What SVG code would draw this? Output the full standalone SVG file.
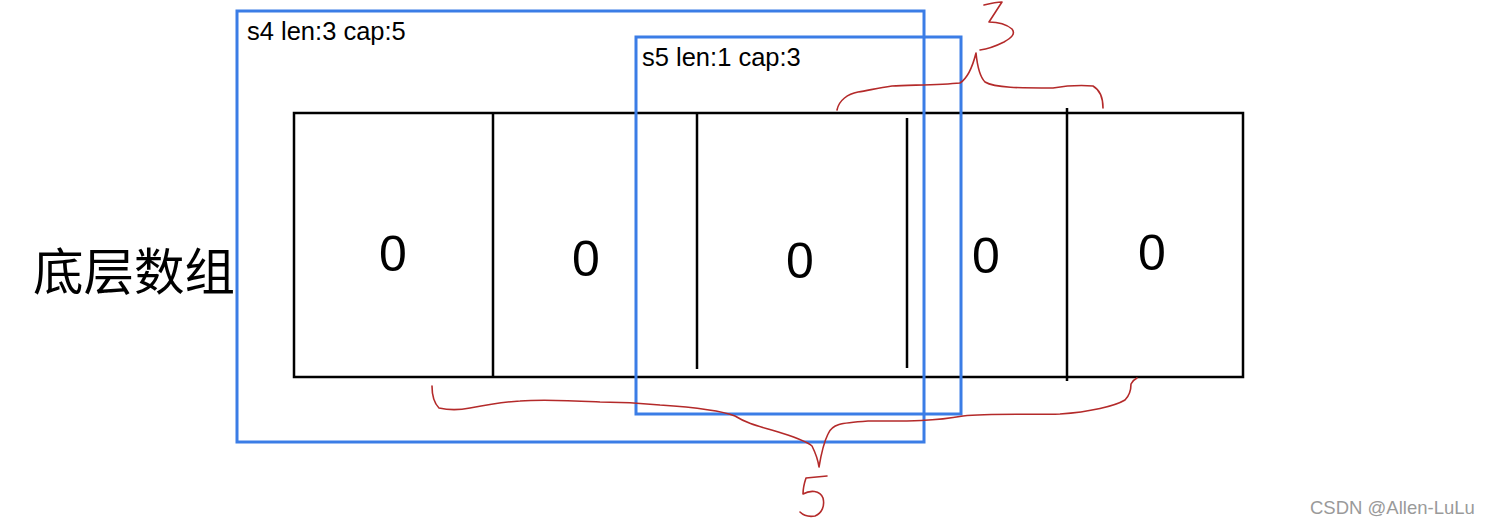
<svg xmlns="http://www.w3.org/2000/svg" width="1491" height="526" viewBox="0 0 1491 526">
<style>
.arr{fill:none;stroke:#000;stroke-width:2.5}
.div{stroke:#000;stroke-width:2.5}
.blue{fill:none;stroke:#3b7de6;stroke-width:3}
.red{fill:none;stroke:#b42a2a;stroke-width:1.6;stroke-linecap:round;stroke-linejoin:round}
.lbl{font-family:"Liberation Sans",Arial,sans-serif;font-size:25.5px;fill:#000}
.num{font-family:"Liberation Sans",Arial,sans-serif;font-size:50px;fill:#000;text-anchor:middle}
.cjk{font-family:"Liberation Sans","Noto Sans CJK SC",sans-serif;font-size:50.5px;fill:#000}
.wm{font-family:"Liberation Sans",Arial,sans-serif;font-size:18.5px;fill:#9a9a9a}
</style>
<rect width="1491" height="526" fill="#fff"/>
<g id="array">
<rect class="arr" x="294" y="113" width="949" height="264"/>
<line class="div" x1="493" y1="113" x2="493" y2="377"/>
<line class="div" x1="697" y1="114" x2="697" y2="369"/>
<line class="div" x1="907" y1="118" x2="907" y2="368"/>
<line class="div" x1="1067" y1="108" x2="1067" y2="381"/>
<text class="num" x="393" y="271">0</text>
<text class="num" x="586" y="276">0</text>
<text class="num" x="800" y="278">0</text>
<text class="num" x="986" y="273">0</text>
<text class="num" x="1152" y="270">0</text>
</g>
<g id="label-array">
<text class="cjk" x="33" y="290">底层数组</text>
</g>
<g id="s4">
<rect class="blue" x="237" y="11" width="687" height="431"/>
<text class="lbl" x="247" y="40">s4 len:3 cap:5</text>
</g>
<g id="s5">
<rect class="blue" x="636" y="37" width="325" height="377"/>
<text class="lbl" x="642" y="66">s5 len:1 cap:3</text>
</g>
<g id="annotations">
<path class="red" d="M837,110 C839,100 848,94 858,92 C870,90 878,88 892,86 C910,85 940,85 960,83 C968,78 973,65 976,53 C977,63 979,76 985,82 C995,88 1020,88 1053,88 C1065,86 1080,85 1093,86 C1100,90 1103,98 1103,108"/>
<path class="red" d="M984,5 C992,3 998,2 1002,2 C998,8 993,16 989,22 C996,22 1006,24 1012,29 C1016,34 1011,38 1004,42 C996,46 988,49 980,50"/>
<path class="red" d="M432,386 C432,395 434,403 439,408 C448,410 460,410 470,408 C485,405 500,402 520,401 C545,399 580,401 600,402 C620,402 640,403 660,405 C690,407 720,410 735,416 C748,424 758,426 775,431 C790,436 805,440 812,446 C815,452 818,460 819,467 C821,455 824,442 828,434 C832,424 840,423 868,421 C900,421 930,422 963,416 C990,413 1030,415 1060,414 C1090,412 1115,406 1125,400 C1130,395 1131,388 1131,384 C1133,380 1135,379 1137,378"/>
<path class="red" d="M827,476 L806,478 C804,484 803,489 803,494 C810,490 820,490 823,498 C825,506 822,513 815,516 C809,517 803,515 800,512"/>
</g>
<text class="wm" x="1310" y="514">CSDN @Allen-LuLu</text>
</svg>
